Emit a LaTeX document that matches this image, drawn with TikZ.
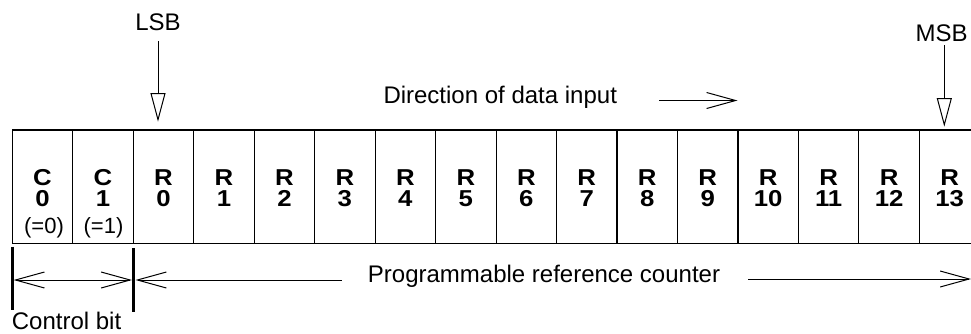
\documentclass[tikz,border=0pt]{standalone}
\usepackage{fontspec}
\setmainfont{Liberation Sans}
\newfontface\bwide{Liberation Sans Bold}[FakeStretch=1.12]
\usetikzlibrary{arrows.meta}
\begin{document}
\begin{tikzpicture}[x=1pt,y=-1pt,
 cell/.style={minimum width=60.47pt,minimum height=113.3pt,inner sep=0pt,outer sep=0pt},
 grid/.style={line width=1.1pt},
 big/.style={font=\bwide\fontsize{23}{25}\selectfont,anchor=base,inner sep=0pt},
 small/.style={font=\fontsize{22}{24}\selectfont,anchor=base,inner sep=0pt},
 lbl/.style={font=\fontsize{24}{26}\selectfont,anchor=base,inner sep=0pt},
 tri/.style={line width=1pt,-{Triangle[open,length=28.7pt,width=15pt]}},
 barb/.style={line width=1pt,-{Straight Barb[length=29pt,width=16pt]}},
 dbarb/.style={line width=1pt,{Straight Barb[length=29pt,width=16pt]}-{Straight Barb[length=29pt,width=16pt]}},
 bar/.style={line width=2.5pt}]
\useasboundingbox (0,0) rectangle (971,333);
\clip (0,0) rectangle (971,333);
% cells
\foreach \a/\b [count=\k from 0] in {C/0,C/1,R/0,R/1,R/2,R/3,R/4,R/5,R/6,R/7,R/8,R/9,R/10,R/11,R/12,R/13} {
  \pgfmathsetmacro{\cx}{12.3+(\k+0.5)*60.47}
  \node[cell] (cell\k) at (\cx,186.65) {};
  \node[big] (ta\k) at (\cx,185) {\a};
  \node[big] (tb\k) at (\cx,206) {\b};
  \draw[grid] (cell\k.north east) -- (cell\k.south east);
}
\draw[grid] (cell0.north west) -- (cell0.south west);
\draw[grid] (cell0.north west) -- (cell15.north east);
\draw[grid] (cell0.south west) -- (cell15.south east);
\node[small] (eq0) at (44,233.3) {(=0)};
\node[small] (eq1) at (103.5,233.3) {(=1)};
% LSB / MSB
\node[lbl] (lsb) at (158,30.7) {LSB};
\coordinate (lsbtip) at (158,121.7);
\draw[tri] ([yshift=-10pt]lsb.south) -- (lsbtip);
\node[lbl] (msb) at (941.7,41.7) {MSB};
\coordinate (msbstart) at (944.3,45);
\coordinate (msbtip) at (944.3,126.7);
\draw[tri] (msbstart) -- (msbtip);
% direction of data input
\node[lbl,anchor=base west] (dir) at (383.3,103.3) {Direction of data input};
\coordinate (dirs) at (659.3,100.5);
\coordinate (dire) at (737.5,100.5);
\draw[barb] (dirs) -- (dire);
% bottom
\coordinate (b1t) at (12.3,246.5);
\coordinate (b1b) at (12.3,310);
\coordinate (b2t) at (133.3,248);
\coordinate (b2b) at (133.3,311.7);
\draw[bar] (b1t) -- (b1b);
\draw[bar] (b2t) -- (b2b);
\coordinate (cbl) at (13.6,280);
\coordinate (cbr) at (132,280);
\draw[dbarb] (cbl) -- (cbr);
\node[lbl] (prc) at (544,282.3) {Programmable reference counter};
\coordinate (pl1) at (341.7,280);
\coordinate (pl2) at (135.5,280);
\draw[barb] (pl1) -- (pl2);
\coordinate (pr1) at (748.3,279);
\coordinate (pr2) at (971,279);
\draw[barb] (pr1) -- (pr2);
\node[lbl,anchor=base west] (cb) at (11.7,329.5) {Control bit};
\end{tikzpicture}
\end{document}
